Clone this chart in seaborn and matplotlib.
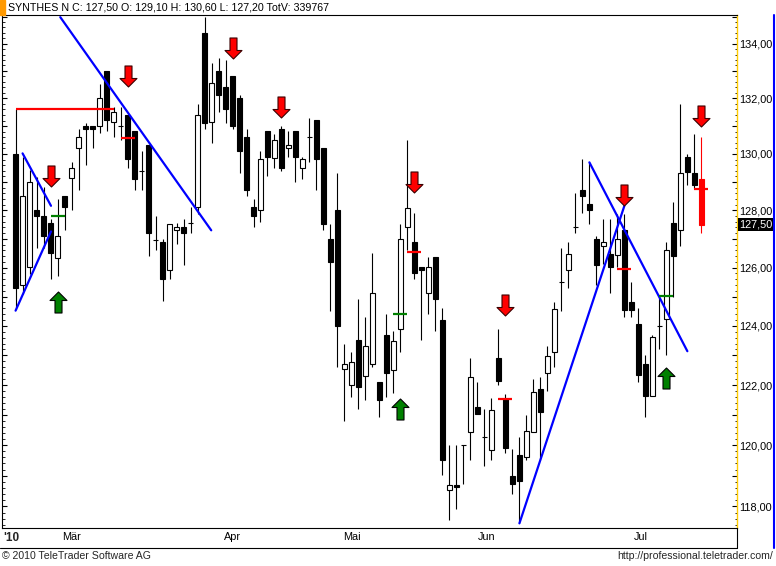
import numpy as np
import pandas as pd
import matplotlib
matplotlib.use("Agg")
import matplotlib.pyplot as plt
import seaborn as sns
from matplotlib.path import Path
from matplotlib.ticker import FixedLocator, FuncFormatter, NullFormatter
from matplotlib.lines import Line2D
from matplotlib.patches import Rectangle
import matplotlib.transforms as mtransforms

# ---------------- data ----------------
opens = [130.00, 125.41, 126.04, 128.00, 127.80, 127.57, 126.32, 128.49, 129.13, 130.23,
         130.99, 131.00, 131.00, 132.98, 131.13, 130.99, 131.40, 130.81, 129.39, 130.32,
         126.97, 126.89, 125.92, 127.32, 127.40, 127.57, 128.13, 134.39, 131.13, 132.98,
         132.40, 132.80, 132.00, 130.59, 128.13, 128.02, 130.81, 129.84, 130.89, 130.23,
         130.81, 129.49, 130.59, 131.22, 130.21, 126.98, 128.00, 122.54, 122.00, 123.51,
         122.32, 122.72, 122.09, 123.70, 122.51, 123.91, 127.43, 126.88, 126.01, 125.14,
         126.38, 124.20, 118.53, 118.70, 120.00, 120.42, 121.27, 120.28, 119.84, 122.90,
         121.53, 118.99, 119.68, 119.62, 120.42, 121.88, 122.42, 123.13, 125.49, 125.92,
         127.43, 128.71, 128.21, 126.98, 126.74, 126.49, 126.44, 127.30, 124.80, 124.08,
         122.71, 121.62, 123.98, 124.23, 127.57, 127.32, 129.88, 129.31, 129.10]
highs = [131.61, 129.90, 129.41, 129.19, 128.81, 127.69, 128.40, 128.49, 129.70, 130.89,
         131.11, 131.00, 132.52, 132.98, 131.67, 131.67, 131.40, 130.81, 130.10, 130.32,
         127.80, 127.00, 127.51, 127.57, 127.69, 128.13, 131.80, 134.97, 133.28, 133.49,
         133.39, 132.80, 132.12, 130.89, 128.40, 130.09, 130.81, 130.71, 130.99, 130.81,
         130.81, 129.90, 131.29, 131.22, 130.21, 127.51, 129.31, 123.40, 123.10, 124.91,
         124.29, 126.50, 122.09, 124.40, 123.84, 127.51, 130.50, 127.89, 126.01, 126.38,
         126.38, 124.61, 120.00, 120.00, 120.00, 122.91, 122.09, 121.19, 121.58, 123.89,
         121.70, 119.89, 120.28, 120.99, 122.20, 122.28, 123.30, 124.80, 126.69, 126.88,
         128.60, 129.81, 129.70, 127.09, 127.69, 127.69, 127.87, 127.87, 125.49, 124.61,
         123.00, 123.70, 125.01, 126.88, 128.28, 131.80, 130.00, 130.71, 130.60]
lows = [124.57, 125.09, 125.78, 126.70, 126.70, 125.61, 125.72, 127.31, 128.00, 128.71,
        129.60, 130.23, 130.74, 130.83, 130.59, 130.50, 129.49, 128.73, 128.73, 126.41,
        126.61, 124.84, 125.61, 126.82, 126.10, 127.20, 127.87, 130.89, 130.39, 131.49,
        131.11, 130.89, 129.32, 128.51, 127.43, 127.60, 129.21, 129.49, 129.40, 129.90,
        129.00, 129.10, 129.70, 128.73, 127.30, 124.52, 122.61, 120.81, 121.61, 121.19,
        121.51, 122.61, 120.92, 121.61, 121.72, 123.12, 126.60, 125.61, 123.53, 124.40,
        123.84, 119.02, 117.55, 117.91, 118.72, 119.52, 121.03, 119.32, 119.52, 122.00,
        119.73, 118.40, 117.45, 119.52, 120.42, 119.52, 121.81, 122.62, 124.52, 125.29,
        127.20, 127.90, 127.51, 125.41, 126.12, 125.14, 126.01, 124.32, 124.32, 122.11,
        120.92, 121.62, 123.23, 123.02, 125.00, 126.74, 128.90, 128.75, 127.20]
closes = [125.29, 128.49, 128.99, 127.81, 127.11, 126.52, 127.09, 128.13, 129.49, 130.59,
          130.90, 130.90, 132.00, 131.23, 131.49, 130.99, 129.81, 129.12, 129.39, 127.20,
          126.97, 125.61, 127.51, 127.40, 127.20, 127.57, 131.40, 131.11, 132.57, 132.13,
          131.61, 131.00, 130.11, 128.73, 127.81, 129.81, 129.90, 130.50, 129.49, 130.32,
          129.90, 129.81, 130.59, 129.81, 127.51, 126.20, 124.00, 122.71, 122.79, 121.92,
          123.30, 125.11, 121.51, 122.40, 123.50, 126.98, 128.10, 125.83, 125.92, 126.01,
          124.92, 119.52, 118.70, 118.62, 120.00, 122.28, 121.03, 120.28, 121.17, 122.12,
          119.92, 118.74, 118.83, 120.48, 121.78, 121.10, 122.99, 124.59, 125.49, 126.49,
          127.43, 128.51, 128.02, 126.10, 126.88, 126.04, 126.98, 124.54, 124.54, 122.33,
          121.62, 123.61, 123.98, 126.61, 126.41, 129.31, 129.35, 128.90, 127.50]

# signals
sell_idx = [5, 16, 31, 38, 57, 70, 87, 98]
sell_arrow_price = [129.23, 132.80, 133.84, 131.67, 128.99, 124.72, 128.54, 131.35]
buy_idx = [6, 55, 93]
buy_arrow_price = [124.81, 121.19, 122.23]
sell_level_idx = [16, 57, 70, 87, 98]
sell_level = [130.56, 126.55, 121.53, 125.95, 128.77]
buy_level_idx = [6, 55, 93]
buy_level = [127.80, 124.40, 125.02]
resist_start, resist_end, resist_level = 0.1, 14.0, 131.61

# trend lines: segment id, x (bar index), price
trend_seg = [0, 0, 1, 1, 2, 2, 3, 3, 4, 4]
trend_x = [0.0, 5.06, 1.0, 5.06, 6.39, 27.96, 72.0, 87.0, 82.0, 96.0]
trend_y = [124.52, 127.26, 130.02, 128.16, 134.98, 127.30, 117.45, 128.16, 129.70, 123.14]

month_labels = ["Mär", "Apr", "Mai", "Jun", "Jul"]
month_pos = [6.67, 29.8, 46.8, 66.0, 88.3]

header = "SYNTHES N C: 127,50 O: 129,10 H: 130,60 L: 127,20 TotV: 339767"
last_price = 127.50

# ---------------- style ----------------
sns.set_theme(style="white")
plt.rcParams['font.family'] = ['Liberation Sans', 'DejaVu Sans']

W, H = 776, 566
fig = plt.figure(figsize=(W / 100, H / 100), dpi=100)
fig.patch.set_facecolor('white')
ax = fig.add_axes([2 / W, 1 - 528 / H, (736.7 - 2) / W, (528 - 15) / H])
ax.set_facecolor('white')
ax.set_yscale('log')

x = np.arange(len(opens))
o = np.array(opens); c = np.array(closes); hi = np.array(highs); lo = np.array(lows)
n = len(x)

face = ['black' if c[i] < o[i] else 'white' for i in range(n)]
edge = ['black'] * n
wick = ['black'] * n
face[-1] = '#FF0000'; edge[-1] = '#FF0000'; wick[-1] = '#FF0000'

ax.vlines(x, lo, hi, colors=wick, linewidth=0.8, zorder=2)
ax.bar(x, np.abs(c - o), bottom=np.minimum(o, c), width=0.62, color=face,
       edgecolor=edge, linewidth=0.8, zorder=3)

# trend lines with seaborn
trend = pd.DataFrame({'seg': trend_seg, 'x': trend_x, 'y': trend_y})
sns.lineplot(data=trend, x='x', y='y', units='seg', estimator=None, sort=False,
             color='#0000FF', linewidth=1.6, ax=ax, legend=False, zorder=4)

# resistance & signal levels
ax.hlines(resist_level, resist_start, resist_end, color='#FF0000', linewidth=1.6, zorder=4)
ax.hlines(sell_level, np.array(sell_level_idx) - 1, np.array(sell_level_idx) + 1,
          color='#FF0000', linewidth=1.6, zorder=5)
ax.hlines(buy_level, np.array(buy_level_idx) - 1, np.array(buy_level_idx) + 1,
          color='#008000', linewidth=1.6, zorder=5)

# arrows
down = [(-3.5, 10.5), (3.5, 10.5), (3.5, -2.0), (8.5, -2.0), (0, -10.5),
        (-8.5, -2.0), (-3.5, -2.0), (-3.5, 10.5)]
codes = [Path.MOVETO] + [Path.LINETO] * 6 + [Path.CLOSEPOLY]
down_path = Path(down, codes)
up_path = Path([(vx, -vy) for vx, vy in down], codes)
msize = (21 * 72 / 100) ** 2
ax.scatter(sell_idx, sell_arrow_price, marker=down_path, s=msize, c='#FF0000',
           edgecolors='#3a0000', linewidths=0.8, zorder=6)
ax.scatter(buy_idx, buy_arrow_price, marker=up_path, s=msize, c='#008000',
           edgecolors='black', linewidths=0.8, zorder=6)

# axes limits & ticks
ax.set_xlim(-1.94, 103.05)
ax.set_ylim(117.3, 135.06)
ax.yaxis.set_major_locator(FixedLocator(np.arange(117, 136, 1.0)))
ax.yaxis.set_major_formatter(FuncFormatter(
    lambda v, p: f"{v:.2f}".replace('.', ',') if int(round(v)) % 2 == 0 else ''))
ax.yaxis.set_minor_locator(FixedLocator(np.arange(117.4, 135.1, 0.2)))
ax.yaxis.set_minor_formatter(NullFormatter())
ax.tick_params(axis='y', which='major', direction='in', length=3.5, width=0.8,
               left=True, right=True, labelleft=False, labelright=True,
               labelsize=7.8, pad=2, colors='black')
ax.tick_params(axis='y', which='minor', direction='in', length=1.8, width=0.7,
               left=True, right=True)
ax.set_xticks(month_pos)
ax.set_xticklabels(month_labels, ha='left')
ax.tick_params(axis='x', which='both', length=0, pad=3, labelsize=7.8, colors='black')
ax.set_xlabel(''); ax.set_ylabel('')
ax.grid(False)

for s in ['left', 'top', 'bottom']:
    ax.spines[s].set_color('black'); ax.spines[s].set_linewidth(0.8)
ax.spines['right'].set_color('#FFCC00'); ax.spines['right'].set_linewidth(1.0)

# last price tag
tr = mtransforms.blended_transform_factory(ax.transAxes, ax.transData)
ax.text(1.0 + 2.5 / 734.7, last_price, f"{last_price:.2f}".replace('.', ','), transform=tr,
        ha='left', va='center', fontsize=7.8, color='white', zorder=10, clip_on=False,
        bbox=dict(boxstyle='square,pad=0.12', fc='black', ec='none'))

# figure decorations
fig.add_artist(Rectangle((0, 1 - 15 / H), 5 / W, 15 / H, transform=fig.transFigure,
                         color='#FF9900', zorder=10))
fig.text(8 / W, 1 - 8 / H, header, fontsize=7.7, va='center', ha='left', color='black')
fig.add_artist(Line2D([774 / W, 774 / W], [1 - 15 / H, 1 - 548 / H], color='#0000FF',
                      linewidth=1.5, transform=fig.transFigure))
fig.add_artist(Line2D([0, 736.7 / W], [1 - 548 / H, 1 - 548 / H], color='black',
                      linewidth=0.8, transform=fig.transFigure))
fig.add_artist(Line2D([736.7 / W, 736.7 / W], [1 - 528 / H, 1 - 548 / H], color='black',
                      linewidth=0.8, transform=fig.transFigure))
fig.text(3 / W, 1 - 538 / H, "'10", fontsize=8.5, fontweight='bold', va='center', ha='left')
fig.text(2 / W, 1 - 556 / H, "© 2010 TeleTrader Software AG", fontsize=7.6, va='center',
         ha='left')
fig.text(773 / W, 1 - 556 / H, "http://professional.teletrader.com/", fontsize=7.6,
         va='center', ha='right')

fig.savefig("out.png", dpi=100, facecolor='white')
